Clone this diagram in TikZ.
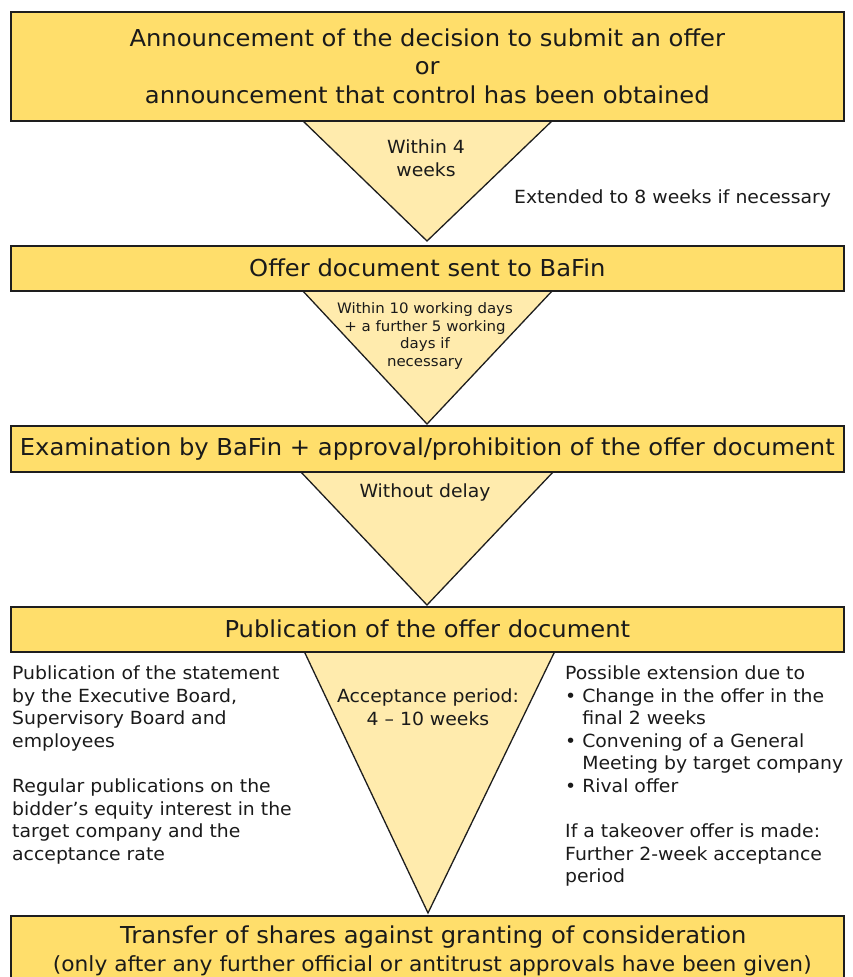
\documentclass[tikz,border=0pt]{standalone}
\usepackage{fontspec}
\setmainfont[FakeStretch=1.04]{DejaVu Sans}
\definecolor{boxfill}{HTML}{FFDE6B}
\definecolor{trifill}{HTML}{FFEBAD}
\definecolor{linecol}{HTML}{1E1E1E}
\definecolor{textcol}{HTML}{1A1A1A}
\begin{document}
\begin{tikzpicture}[x=1pt,y=-1pt,
  box/.style={draw=linecol, line width=1.6pt, fill=boxfill, text=textcol, align=center, inner sep=0pt, anchor=north west, minimum width=833pt},
  tri/.style={draw=linecol, line width=1.3pt, fill=trifill, line join=miter},
  big/.style={font=\fontsize{23.3}{28.5}\selectfont},
  mid/.style={font=\fontsize{18.1}{22.6}\selectfont},
  small/.style={font=\fontsize{14.4}{17.7}\selectfont},
  lbl/.style={text=textcol, inner sep=0pt}]
\useasboundingbox (0,0) rectangle (852,977);
\clip (0,0) rectangle (852,977);

% triangles
\coordinate (t1a) at (302,120); \coordinate (t1b) at (553,120); \coordinate (t1c) at (427,241);
\coordinate (t2a) at (302,290); \coordinate (t2b) at (553,290); \coordinate (t2c) at (427,424);
\coordinate (t3a) at (300,471); \coordinate (t3b) at (554,471); \coordinate (t3c) at (427,605);
\coordinate (t4a) at (304,651); \coordinate (t4b) at (555,651); \coordinate (t4c) at (428,913);
\draw[tri] (t1a) -- (t1b) -- (t1c) -- cycle;
\draw[tri] (t2a) -- (t2b) -- (t2c) -- cycle;
\draw[tri] (t3a) -- (t3b) -- (t3c) -- cycle;
\draw[tri] (t4a) -- (t4b) -- (t4c) -- cycle;

% boxes
\node[box, big, minimum height=109pt] (b1) at (10,11)
  {Announcement of the decision to submit an offer\\or\\announcement that control has been obtained};
\node[box, big, minimum height=45pt] (b2) at (10,245) {Offer document sent to BaFin};
\node[box, big, minimum height=46pt] (b3) at (10,425) {Examination by BaFin + approval/prohibition of the offer document};
\node[box, big, minimum height=45pt] (b4) at (10,606) {Publication of the offer document};
\node[box, big, minimum height=70pt] (b5) at (10,915)
  {\hspace*{12pt}Transfer of shares against granting of consideration\\[-1pt]{\fontsize{20.9}{25}\selectfont \hspace*{10pt}(only after any further official or antitrust approvals have been given)}};

% triangle texts
\node[lbl, mid, align=center] (w4) at (426,158) {Within 4\\weeks};
\node[lbl, mid, anchor=west] (ext) at (514,199) {Extended to 8 weeks if necessary};
\node[lbl, small, align=center] (w10) at (425,336) {Within 10 working days\\+ a further 5 working\\days if\\necessary};
\node[lbl, mid] (wd) at (425,493) {Without delay};
\node[lbl, mid, align=center] (acc) at (428,707) {Acceptance period:\\4 -- 10 weeks};

% side texts
\node[lbl, mid, align=left, anchor=north west] (left) at (12,665.5)
  {Publication of the statement\\by the Executive Board,\\Supervisory Board and\\employees\\[22.6pt]
   Regular publications on the\\bidder’s equity interest in the\\target company and the\\acceptance rate};
\node[lbl, mid, align=left, anchor=north west] (right) at (565,665.5)
  {Possible extension due to\\• Change in the offer in the\\\phantom{• }final 2 weeks\\• Convening of a General\\\phantom{• }Meeting by target company\\• Rival offer\\[22.6pt]
   If a takeover offer is made:\\Further 2-week acceptance\\period};
\end{tikzpicture}
\end{document}
